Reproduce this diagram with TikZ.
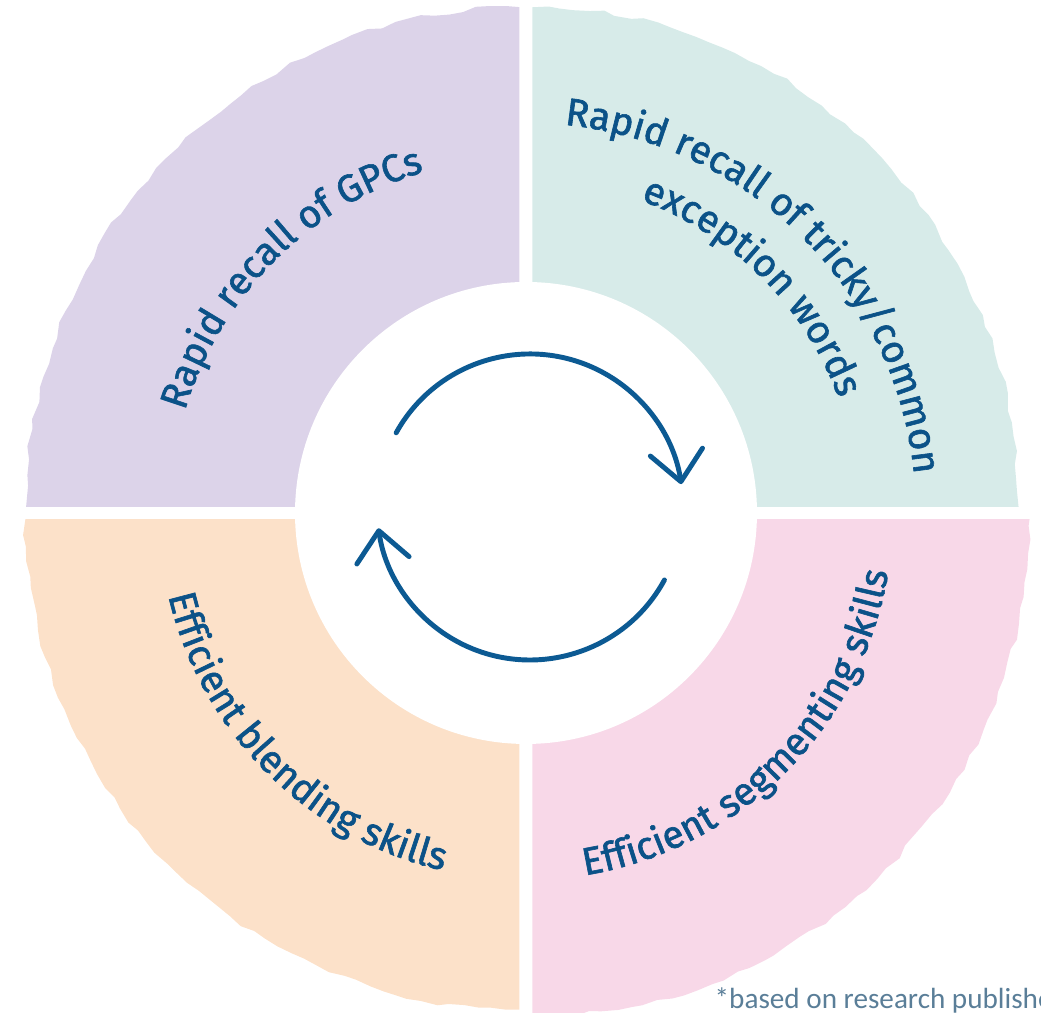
\documentclass[tikz,border=0pt]{standalone}
\usepackage{fontspec}
\newfontfamily\labelfont{Fira Sans}[FakeBold=1.6]
\newfontfamily\notefont{Carlito}
\usetikzlibrary{
	arrows.meta,
	calc,
	decorations.text,
	decorations.pathmorphing
}

\definecolor{gpcfill}{HTML}{DCD3E9}
\definecolor{trickyfill}{HTML}{D7EBE9}
\definecolor{blendfill}{HTML}{FCE1C9}
\definecolor{segfill}{HTML}{F8D8E8}
\definecolor{ink}{HTML}{0B5288}
\definecolor{cyclecol}{HTML}{0C5A93}
\definecolor{notecol}{HTML}{5A7E98}

\tikzset{
	brush/.style={decorate, decoration={random steps, segment length=4pt, amplitude=0.7pt}},
	curved/.style={decorate, decoration={text along path, text align=center,
		text={|\fontsize{11}{13}\selectfont\labelfont\color{ink}|#1}}},
	cycle arrow/.style={draw=cyclecol, line width=1.4pt, line cap=round,
		-{Straight Barb[length=8.5pt, width=15pt, round]}}
}

\begin{document}
\begin{tikzpicture}[x=0.01cm, y=0.01cm]
		\useasboundingbox (0,0) rectangle (1041,1013);
		\clip (0,0) rectangle (1041,1013);
		\pgfmathsetseed{7}
		\coordinate (C) at (526,500);
		\coordinate (R) at (530,506);
		\foreach \sx/\sy/\col/\rx/\ry in {-1/1/gpcfill/493/499, 1/1/trickyfill/486/499, -1/-1/blendfill/494/490, 1/-1/segfill/497/497}{
			\begin{scope}
				\clip ($(C)+(6.5*\sx,6.5*\sy)$) rectangle ++(600*\sx,600*\sy);
				\fill[\col, brush] ($(C)+(6.5*\sx,6.5*\sy)$) ellipse[x radius=\rx, y radius=\ry];
			\end{scope}
		}
		\fill[white] (C) circle (231);
		\path[curved={Rapid recall of GPCs}] (C) ++(195:356) arc[start angle=195, end angle=75, radius=356];
		\path[curved={Rapid recall of tricky/common}] (C) ++(105:390) arc[start angle=105, end angle=-15, radius=390];
		\path[curved={exception words}] (C) ++(105:333) arc[start angle=105, end angle=-15, radius=333];
		\path[curved={Efficient blending skills}] (C) ++(165:367) arc[start angle=165, end angle=285, radius=367];
		\path[curved={Efficient segmenting skills}] (C) ++(255:367) arc[start angle=255, end angle=375, radius=367];
		\draw[cycle arrow] (R) ++(151:153) arc[start angle=151, end angle=8.6, radius=153];
		\draw[cycle arrow] (R) ++(-28.5:153) arc[start angle=-28.5, end angle=-172, radius=153];
		\node[anchor=base west, inner sep=0pt, text=notecol, font=\notefont\fontsize{8.3}{10}\selectfont] (note) at (714,4) {*based on research published};
	\end{tikzpicture}
\end{document}
